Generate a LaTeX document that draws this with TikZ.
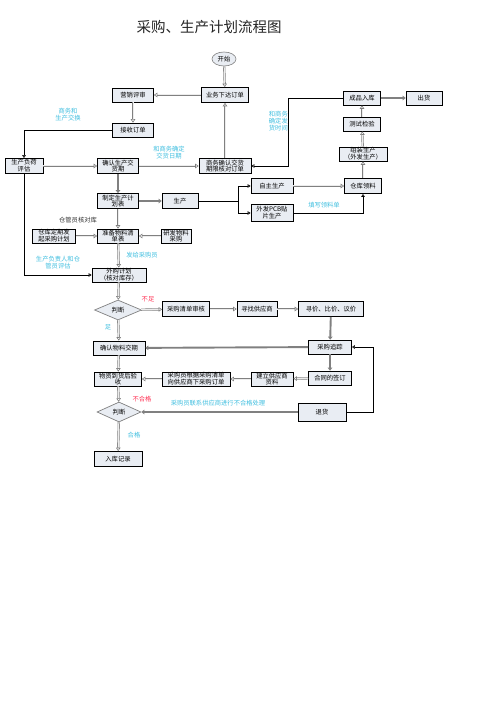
\documentclass[tikz,border=0pt]{standalone}
\usepackage{fontspec}
\newfontfamily\cjk{Noto Sans CJK SC}
\usetikzlibrary{shapes.geometric,arrows.meta}
\definecolor{boxfill}{HTML}{E9EDF3}
\definecolor{lblcyan}{HTML}{40BFE0}
\definecolor{lblred}{HTML}{FF3355}
\definecolor{lngray}{HTML}{808080}
\tikzset{
  box/.style={draw=black, line width=0.7pt, fill=boxfill, font=\cjk\fontsize{6.3}{6.8}\selectfont, align=center, inner sep=0.5pt},
  judge/.style={diamond, draw=lngray, line width=0.7pt, fill=boxfill, font=\cjk\fontsize{6.3}{6.8}\selectfont, inner sep=0pt, aspect=2.3},
  cyanlbl/.style={font=\cjk\fontsize{6.3}{7}\selectfont, text=lblcyan, align=center, inner sep=0pt},
  redlbl/.style={font=\cjk\fontsize{6.3}{7}\selectfont, text=lblred, align=center, inner sep=0pt},
  blklbl/.style={font=\cjk\fontsize{6.3}{7}\selectfont, text=black!80, align=center, inner sep=0pt},
  dline/.style={draw=lngray, line width=0.6pt, double=white!85!gray, double distance=1pt, -{Triangle[open,length=3.5pt,width=4.5pt]}},
  tline/.style={draw=lngray, line width=1.9pt, -{Triangle[length=3pt,width=4.5pt]}},
  bline/.style={draw=black, line width=0.6pt, -{Triangle[open,length=3pt,width=3.5pt]}},
}
\begin{document}
\begin{tikzpicture}[x=1pt,y=-1pt]
\useasboundingbox[fill=white] (0,0) rectangle (497,703);
% title
\node[font=\cjk\fontsize{14.5}{16}\selectfont, text=black!85] (title) at (209,27) {采购、生产计划流程图};
% nodes
\node[ellipse, draw=lngray, line width=0.6pt, fill=boxfill, minimum width=24pt, minimum height=14pt, inner sep=0pt, font=\cjk\fontsize{6.3}{6.8}\selectfont] (start) at (224,59) {开始};
\node[box, minimum width=41pt, minimum height=14pt] (yxps) at (133,95) {营销评审};
\node[box, minimum width=47pt, minimum height=15pt] (ywxd) at (225,95) {业务下达订单};
\node[box, minimum width=41pt, minimum height=14pt] (jsdd) at (133,130) {接收订单};
\node[box, minimum width=38pt, minimum height=15pt] (fhpg) at (24,166) {生产负荷\\评估};
\node[box, minimum width=41pt, minimum height=15pt] (qrjh) at (118,166) {确认生产交\\货期};
\node[box, minimum width=52pt, minimum height=15pt] (swqr) at (225,166) {商务确认交货\\期限核对订单};
\node[box, minimum width=37pt, minimum height=14pt] (cprk) at (362,98) {成品入库};
\node[box, minimum width=36pt, minimum height=14pt] (ch) at (424,98) {出货};
\node[box, minimum width=37pt, minimum height=14pt] (csjy) at (362,124) {测试检验};
\node[box, minimum width=48pt, minimum height=14pt] (zzsc) at (363,154) {组装生产\\（外发生产）};
\node[box, minimum width=37pt, minimum height=15pt] (ckll) at (363,186) {仓库领料};
\node[box, minimum width=42pt, minimum height=15pt] (zzsc2) at (272,186) {自主生产};
\node[box, minimum width=42pt, minimum height=17pt] (wfpcb) at (272,213) {外发PCB贴\\片生产};
\node[box, minimum width=36pt, minimum height=15pt] (sc) at (180,201) {生产};
\node[box, minimum width=41pt, minimum height=15pt] (zdjh) at (118,201) {制定生产计\\划表};
\node[box, minimum width=43pt, minimum height=14pt] (ckdq) at (54,236) {仓库定期发\\起采购计划};
\node[box, minimum width=41pt, minimum height=14pt] (zbwl) at (118,236) {准备物料清\\单表};
\node[box, minimum width=30pt, minimum height=14pt] (yfwl) at (176,236) {研发物料\\采购};
\node[box, minimum width=54pt, minimum height=14pt] (wgjh) at (119,275) {外购计划\\（核对库存）};
\node[judge, minimum width=47pt, minimum height=20pt] (pd1) at (118,310) {判断};
\node[box, minimum width=47pt, minimum height=15pt] (qdsh) at (186,309) {采购清单审核};
\node[box, minimum width=40pt, minimum height=15pt] (xzgys) at (257,309) {寻找供应商};
\node[box, minimum width=65pt, minimum height=15pt] (xj) at (331,309) {寻价、比价、议价};
\node[box, minimum width=52pt, minimum height=14pt] (qrwl) at (119,348) {确认物料交期};
\node[box, minimum width=43pt, minimum height=14pt] (cgzz) at (330,347) {采购追踪};
\node[box, minimum width=47pt, minimum height=14pt] (wzdh) at (118,379) {物资到货后验\\收};
\node[box, minimum width=68pt, minimum height=14pt] (cgygj) at (196,379) {采购员根据采购清单\\向供应商下采购订单};
\node[box, minimum width=42pt, minimum height=14pt] (jlgys) at (272,379) {建立供应商\\资料};
\node[box, minimum width=43pt, minimum height=14pt] (htqd) at (330,378) {合同的签订};
\node[judge, minimum width=44pt, minimum height=20pt] (pd2) at (119,412) {判断};
\node[box, minimum width=48pt, minimum height=18pt] (th) at (322,412) {退货};
\node[box, minimum width=48pt, minimum height=15pt] (rkjl) at (118,459) {入库记录};
% labels
\node[cyanlbl] (l1) at (68,115) {商务和\\生产交换};
\node[cyanlbl] (l2) at (169,153) {和商务确定\\交货日期};
\node[cyanlbl, anchor=east] (l3) at (288,121) {和商务\\确定发\\货时间};
\node[cyanlbl] (l4) at (324,205) {填写领料单};
\node[cyanlbl] (l5) at (142,255) {发给采购员};
\node[cyanlbl] (l6) at (58,263) {生产负责人和仓\\管员评估};
\node[cyanlbl] (l7) at (108,327) {足};
\node[cyanlbl] (l8) at (134,435) {合格};
\node[cyanlbl] (l9) at (218,403) {采购员联系供应商进行不合格处理};
\node[redlbl] (l10) at (148,299) {不足};
\node[redlbl] (l11) at (142,399) {不合格};
\node[blklbl] (l12) at (78,220) {仓管员核对库};
% coordinates
\coordinate (c1) at (24,130);
\coordinate (c2) at (288,98);
\coordinate (c3) at (288,166);
\coordinate (c4) at (363,213);
\coordinate (c5) at (238,201);
\coordinate (c6) at (238,186);
\coordinate (c7) at (238,213);
\coordinate (c8) at (24,275);
\coordinate (c9) at (373,412);
\coordinate (c10) at (373,347);
% connectors
\draw[dline] (start) -- (ywxd);
\draw[dline] (ywxd) -- (yxps);
\draw[dline] (yxps) -- (jsdd);
\draw[bline] (jsdd.west) -- (c1) -- (fhpg.north);
\draw[dline] (fhpg) -- (qrjh);
\draw[dline] (qrjh) -- (swqr);
\draw[dline] (swqr) -- (ywxd);
\draw[bline] (cprk.west) -- (c2) -- (c3) -- (swqr.east);
\draw[tline] (cprk) -- (ch);
\draw[dline] (csjy) -- (cprk);
\draw[dline] (zzsc) -- (csjy);
\draw[dline] (ckll) -- (zzsc);
\draw[dline] (zzsc2) -- (ckll);
\draw[bline] (wfpcb.east) -- (c4) -- (ckll.south);
\draw[bline] (sc.east) -- (c5) -- (c6) -- (zzsc2.west);
\draw[bline] (c5) -- (c7) -- (wfpcb.west);
\draw[tline] (zdjh) -- (sc);
\draw[tline] (qrjh) -- (zdjh);
\draw[dline] (zdjh) -- (zbwl);
\draw[dline] (ckdq) -- (zbwl);
\draw[dline] (yfwl) -- (zbwl);
\draw[dline] (zbwl) -- (wgjh);
\draw[bline] (fhpg.south) -- (c8) -- (wgjh.west);
\draw[dline] (wgjh) -- (pd1);
\draw[dline] (pd1) -- (qdsh);
\draw[dline] (qdsh) -- (xzgys);
\draw[dline] (xzgys) -- (xj);
\draw[tline] (xj) -- (cgzz);
\draw[dline] (pd1) -- (qrwl);
\draw[tline] (cgzz) -- (qrwl);
\draw[tline] (cgzz) -- (htqd);
\draw[dline] (htqd) -- (jlgys);
\draw[dline] (jlgys) -- (cgygj);
\draw[dline] (cgygj) -- (wzdh);
\draw[dline] (qrwl) -- (wzdh);
\draw[dline] (wzdh) -- (pd2);
\draw[tline] (th) -- (pd2);
\draw[bline] (th.east) -- (c9) -- (c10) -- (cgzz.east);
\draw[dline] (pd2) -- (rkjl);
\end{tikzpicture}
\end{document}
